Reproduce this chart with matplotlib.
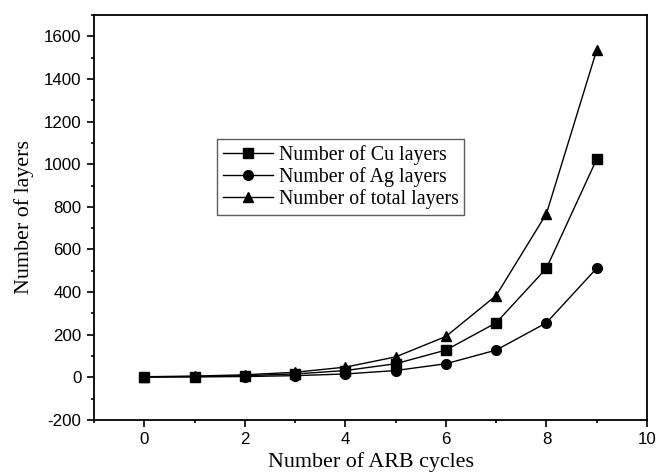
import matplotlib
matplotlib.use("Agg")
import matplotlib.pyplot as plt
from matplotlib.ticker import MultipleLocator

plt.rcParams['axes.unicode_minus'] = False

cycles = [0, 1, 2, 3, 4, 5, 6, 7, 8, 9]
cu_layers = [2, 4, 8, 16, 32, 64, 128, 256, 512, 1024]
ag_layers = [1, 2, 4, 8, 16, 32, 64, 128, 256, 512]
total_layers = [3, 6, 12, 24, 48, 96, 192, 384, 768, 1536]

fig = plt.figure(figsize=(6.56, 4.74), dpi=100)
ax = fig.add_axes([94/656, 1-420/474, (647-94)/656, (420-15)/474])

ax.plot(cycles, cu_layers, '-s', color='black', lw=1.0, ms=6.5, label='Number of Cu layers')
ax.plot(cycles, ag_layers, '-o', color='black', lw=1.0, ms=7, label='Number of Ag layers')
ax.plot(cycles, total_layers, '-^', color='black', lw=1.0, ms=7.5, label='Number of total layers')

ax.set_xlim(-1, 10)
ax.set_ylim(-200, 1700)
ax.xaxis.set_major_locator(MultipleLocator(2))
ax.xaxis.set_minor_locator(MultipleLocator(1))
ax.yaxis.set_major_locator(MultipleLocator(200))
ax.yaxis.set_minor_locator(MultipleLocator(100))
ax.tick_params(which='both', direction='out', top=False, right=False, width=1.2)
ax.tick_params(which='major', length=5, pad=4)
ax.tick_params(which='minor', length=2.5)
for lab in ax.get_xticklabels() + ax.get_yticklabels():
    lab.set_fontfamily('Liberation Sans')
    lab.set_fontsize(12.2)
for s in ax.spines.values():
    s.set_linewidth(1.3)

ax.set_xlabel('Number of ARB cycles', family='Liberation Serif', fontsize=15.8, labelpad=3)
ax.set_ylabel('Number of layers', family='Liberation Serif', fontsize=15.8, labelpad=7)

leg = ax.legend(loc='upper left', bbox_to_anchor=(217/656, 1-139/474), bbox_transform=fig.transFigure,
                prop={'family': 'Liberation Serif', 'size': 14.3}, fancybox=False, frameon=True,
                borderaxespad=0, handlelength=2.5, labelspacing=0.12, borderpad=0.3, handletextpad=0.3)
leg.get_frame().set_edgecolor('#333333')
leg.get_frame().set_linewidth(1.0)

fig.savefig('out.png', dpi=100)
